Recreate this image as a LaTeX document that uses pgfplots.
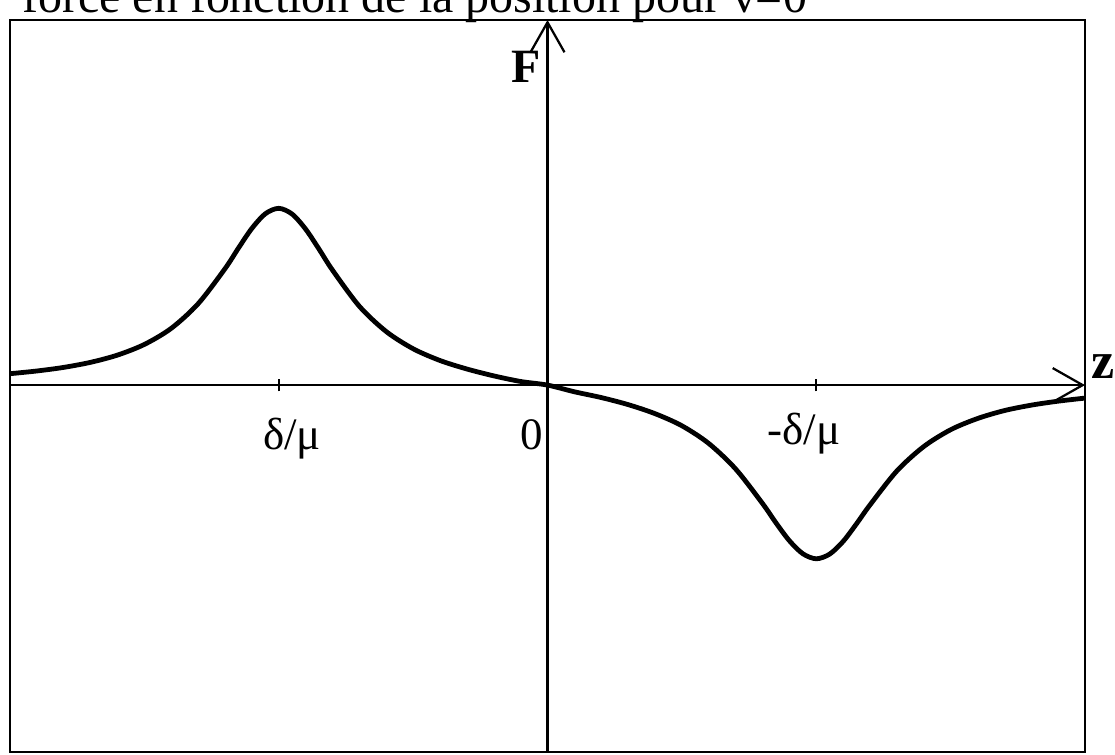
\documentclass[border=0pt]{standalone}
\usepackage{fontspec}
\setmainfont{Liberation Serif}
\usepackage{pgfplots}
\pgfplotsset{compat=1.18}
\usetikzlibrary{arrows.meta}

% 1 px of the reference = 0.025cm
\begin{document}
\begin{tikzpicture}
\begin{axis}[
    scale only axis, width=26.875cm, height=18.3cm,
    xmin=-2, xmax=2, ymin=-2.03, ymax=2.02,
    xtick=\empty, ytick=\empty,
    axis line style={line width=1.6pt},
    clip=false,
]
  \addplot[black, line width=3.4pt, smooth, tension=0.5] coordinates {
    (-2.0,0.063) (-1.9,0.078) (-1.8,0.098) (-1.7,0.126) (-1.6,0.166)
    (-1.5,0.225) (-1.4,0.314) (-1.3,0.450) (-1.2,0.644) (-1.15,0.758)
    (-1.1,0.867) (-1.05,0.948) (-1.0,0.978) (-0.95,0.946) (-0.9,0.863)
    (-0.85,0.752) (-0.8,0.636) (-0.7,0.436) (-0.6,0.296) (-0.5,0.201)
    (-0.4,0.136) (-0.3,0.089) (-0.2,0.051) (-0.1,0.020) (0.0,0.000)
    (0.1,-0.037) (0.2,-0.069) (0.3,-0.108) (0.4,-0.158) (0.5,-0.225)
    (0.6,-0.323) (0.7,-0.464) (0.8,-0.655) (0.85,-0.762) (0.9,-0.861)
    (0.95,-0.933) (1.0,-0.961) (1.05,-0.935) (1.1,-0.865) (1.15,-0.767)
    (1.2,-0.663) (1.3,-0.475) (1.4,-0.340) (1.5,-0.247) (1.6,-0.185)
    (1.7,-0.141) (1.8,-0.111) (1.9,-0.089) (2.0,-0.072)
  };
  % axes with open arrow heads
  \draw[line width=1.6pt, -{Straight Barb[length=0.75cm,width=0.85cm]}]
    (axis cs:-2,0) -- (axis cs:2,0);
  \draw[line width=1.6pt, -{Straight Barb[length=0.75cm,width=0.85cm]}]
    (axis cs:0,-2.03) -- (axis cs:0,2.02);
  \draw[line width=1.4pt] (axis cs:-1,-0.035) -- (axis cs:-1,0.035);
  \draw[line width=1.4pt] (axis cs:1,-0.035) -- (axis cs:1,0.035);
  % labels
  \node[anchor=base, inner sep=0] at (axis cs:-0.951,-0.355) {\fontsize{32}{34}\selectfont δ/μ};
  \node[anchor=base, inner sep=0] at (axis cs:-0.060,-0.355) {\fontsize{32}{34}\selectfont 0};
  \node[anchor=base, inner sep=0] at (axis cs:0.954,-0.33) {\fontsize{32}{34}\selectfont -δ/μ};
  \node[inner sep=0] at (axis cs:-0.080,1.762) {\fontsize{34}{36}\selectfont\bfseries F};
  \node[inner sep=0] at (axis cs:2.067,0.105) {\fontsize{37}{38}\selectfont\bfseries z};
  \node[anchor=base west, inner sep=0] at (axis cs:-1.955,2.06)
    {\fontsize{34.1}{36}\selectfont force en fonction de la position pour v=0};
  \coordinate (ll) at (rel axis cs:0,0);
  \coordinate (ur) at (rel axis cs:1,1);
\end{axis}
\pgfresetboundingbox
\path[use as bounding box] ([xshift=-0.25cm,yshift=-0.075cm]ll) rectangle ([xshift=0.75cm,yshift=0.5cm]ur);
\end{tikzpicture}
\end{document}
